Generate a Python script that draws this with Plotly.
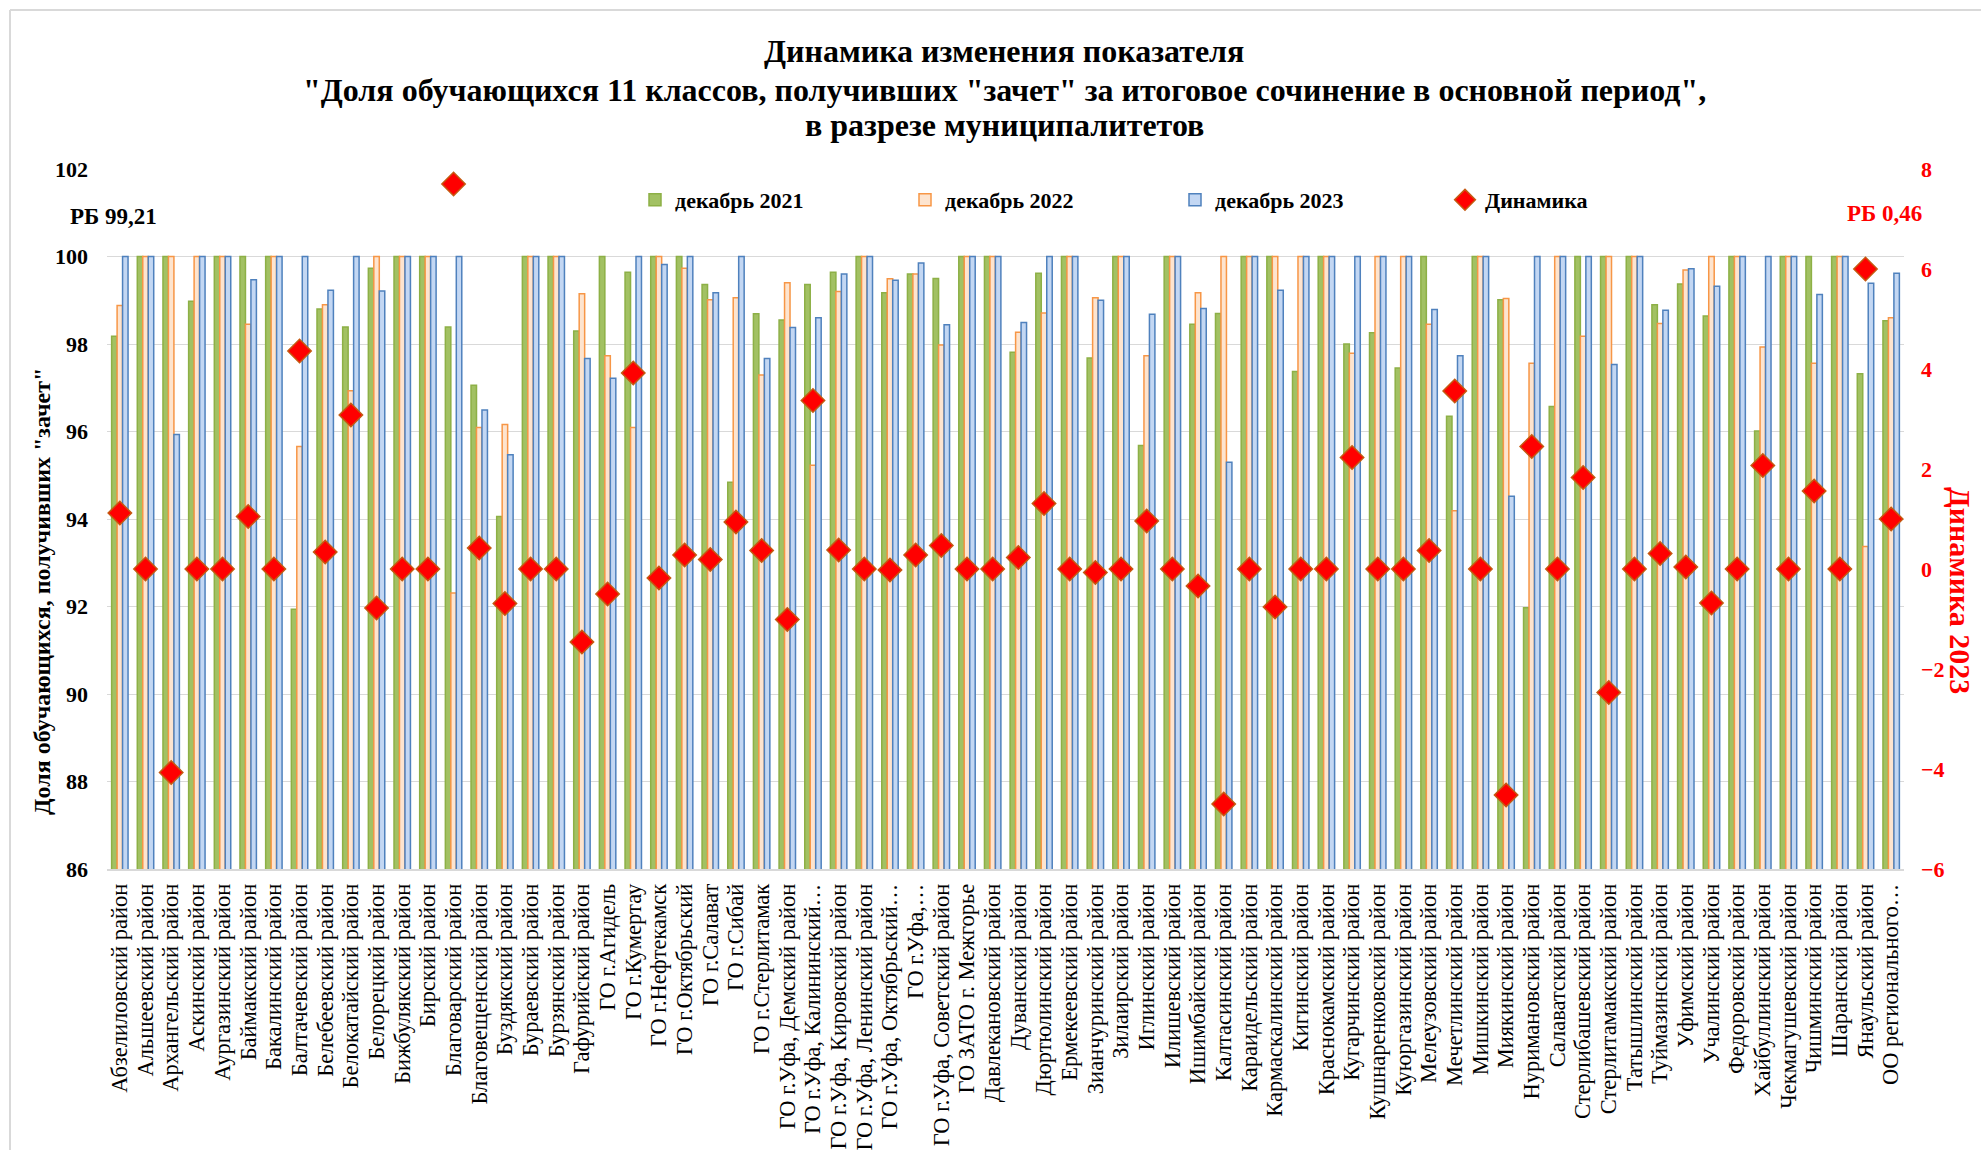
import plotly.graph_objects as go

categories = [
    "Абзелиловский район", "Альшеевский район", "Архангельский район", "Аскинский район",
    "Аургазинский район", "Баймакский район", "Бакалинский район", "Балтачевский район",
    "Белебеевский район", "Белокатайский район", "Белорецкий район", "Бижбулякский район",
    "Бирский район", "Благоварский район", "Благовещенский район", "Буздякский район",
    "Бураевский район", "Бурзянский район", "Гафурийский район", "ГО г.Агидель",
    "ГО г.Кумертау", "ГО г.Нефтекамск", "ГО г.Октябрьский", "ГО г.Салават", "ГО г.Сибай",
    "ГО г.Стерлитамак", "ГО г.Уфа, Демский район", "ГО г.Уфа, Калининский…",
    "ГО г.Уфа, Кировский район", "ГО г.Уфа, Ленинский район", "ГО г.Уфа, Октябрьский…",
    "ГО г.Уфа,…", "ГО г.Уфа, Советский район", "ГО ЗАТО г. Межгорье",
    "Давлекановский район", "Дуванский район", "Дюртюлинский район", "Ермекеевский район",
    "Зианчуринский район", "Зилаирский район", "Иглинский район", "Илишевский район",
    "Ишимбайский район", "Калтасинский район", "Караидельский район",
    "Кармаскалинский район", "Кигинский район", "Краснокамский район", "Кугарчинский район",
    "Кушнаренковский район", "Куюргазинский район", "Мелеузовский район",
    "Мечетлинский район", "Мишкинский район", "Миякинский район", "Нуримановский район",
    "Салаватский район", "Стерлибашевский район", "Стерлитамакский район",
    "Татышлинский район", "Туймазинский район", "Уфимский район", "Учалинский район",
    "Федоровский район", "Хайбуллинский район", "Чекмагушевский район", "Чишминский район",
    "Шаранский район", "Янаульский район", "ОО регионального…",
]

dec_2021 = [
    98.18, 100, 100, 98.98, 100, 100, 100, 91.94, 98.80, 98.39,
    99.73, 100, 100, 98.39, 97.06, 94.06, 100, 100, 98.30, 100,
    99.64, 100, 100, 99.36, 94.84, 98.69, 98.55, 99.36, 99.64, 100,
    99.17, 99.60, 99.50, 100, 100, 97.81, 99.62, 100, 97.68, 100,
    95.68, 100, 98.45, 98.70, 100, 100, 97.37, 100, 98.00, 98.26,
    97.45, 100, 96.35, 100, 99.01, 91.97, 96.57, 100, 100, 100,
    98.90, 99.37, 98.64, 100, 96.01, 100, 100, 100, 97.32, 98.53,
]

dec_2022 = [
    98.88, 100, 100, 100, 100, 98.45, 100, 95.66, 98.90, 96.93,
    100, 100, 100, 92.31, 96.09, 96.16, 100, 100, 99.15, 97.73,
    96.09, 100, 99.73, 99.01, 99.06, 97.29, 99.40, 95.23, 99.20, 100,
    99.49, 99.60, 97.98, 100, 100, 98.27, 98.71, 100, 99.06, 100,
    97.73, 100, 99.17, 100, 100, 100, 100, 100, 97.79, 100,
    100, 98.45, 94.19, 100, 99.04, 97.56, 100, 98.18, 100, 100,
    98.47, 99.69, 100, 100, 97.93, 100, 97.56, 100, 93.37, 98.60,
]

dec_2023 = [
    100, 100, 95.93, 100, 100, 99.47, 100, 100, 99.23, 100,
    99.21, 100, 100, 100, 96.49, 95.47, 100, 100, 97.67, 97.22,
    100, 99.82, 100, 99.17, 100, 97.67, 98.38, 98.60, 99.60, 100,
    99.46, 99.85, 98.44, 100, 100, 98.49, 100, 100, 99.00, 100,
    98.68, 100, 98.81, 95.30, 100, 99.23, 100, 100, 100, 100,
    100, 98.79, 97.73, 100, 94.52, 100, 100, 100, 97.53, 100,
    98.77, 99.72, 99.32, 100, 100, 100, 99.13, 100, 99.39, 99.62,
]

dynamics = [
    1.12, 0, -4.07, 0, 0, 1.05, 0, 4.36, 0.34, 3.08,
    -0.78, 0, 0, 7.70, 0.42, -0.69, 0, 0, -1.46, -0.50,
    3.92, -0.18, 0.28, 0.19, 0.94, 0.37, -1.01, 3.37, 0.38, 0,
    -0.02, 0.28, 0.47, 0, 0, 0.23, 1.31, 0, -0.07, 0,
    0.96, 0, -0.34, -4.70, 0, -0.76, 0, 0, 2.23, 0,
    0, 0.37, 3.56, 0, -4.52, 2.45, 0, 1.83, -2.47, 0,
    0.31, 0.04, -0.68, 0, 2.07, 0, 1.56, 0, 6.00, 1.00,
]

series_names = ["декабрь 2021", "декабрь 2022", "декабрь 2023"]
dyn_name = "Динамика"
title_lines = [
    "Динамика изменения показателя",
    "\"Доля обучающихся 11 классов, получивших \"зачет\" за итоговое сочинение в основной период\",",
    "в разрезе муниципалитетов",
]

SERIF = "Liberation Serif, Times New Roman, serif"
W, H = 1981, 1150
L, R, T, B = 107, 77, 169, 281
PW, PH = W - L - R, H - T - B


def px(xp):
    return (xp - L) / PW


def py(yp):
    return (H - B - yp) / PH


fig = go.Figure()

bar_styles = [
    dict(color="#A2C163", line=dict(color="#8DB046", width=1.5)),
    dict(color="#FDE4CF", line=dict(color="#F79646", width=1.5)),
    dict(color="#C3D7F3", line=dict(color="#4F81BD", width=1.5)),
]
for name, vals, st in zip(series_names, [dec_2021, dec_2022, dec_2023], bar_styles):
    fig.add_trace(go.Bar(x=categories, y=vals, name=name, marker=st, yaxis="y"))

fig.add_trace(go.Scatter(
    x=categories, y=dynamics, name=dyn_name, mode="markers", yaxis="y2",
    marker=dict(symbol="diamond", size=18, color="#FF0000",
                line=dict(color="#C55A11", width=1.5)),
))

title_y = [51, 90, 125]
annotations = [
    dict(text="<b>" + t + "</b>", x=px(1004), y=py(yy), xref="paper", yref="paper",
         xanchor="center", yanchor="middle", showarrow=False,
         font=dict(family=SERIF, size=32, color="black"))
    for t, yy in zip(title_lines, title_y)
]

annotations += [
    dict(text="<b>Доля обучающихся, получивших \"зачет\"</b>", textangle=-90,
         x=px(42), y=py(592), xref="paper", yref="paper", showarrow=False,
         xanchor="center", yanchor="middle",
         font=dict(family=SERIF, size=24, color="black")),
    dict(text="<b>Динамика 2023</b>", textangle=90,
         x=px(1961), y=py(590), xref="paper", yref="paper", showarrow=False,
         xanchor="center", yanchor="middle",
         font=dict(family=SERIF, size=30, color="#FF0000")),
    dict(text="<b>РБ 99,21</b>", x=px(113), y=py(216), xref="paper", yref="paper",
         showarrow=False, xanchor="center", yanchor="middle",
         font=dict(family=SERIF, size=23, color="black")),
    dict(text="<b>РБ 0,46</b>", x=px(1884), y=py(213), xref="paper", yref="paper",
         showarrow=False, xanchor="center", yanchor="middle",
         font=dict(family=SERIF, size=23, color="#FF0000")),
]

fig.update_layout(
    width=W, height=H,
    margin=dict(l=L, r=R, t=T, b=B, autoexpand=False),
    paper_bgcolor="white", plot_bgcolor="white",
    barmode="group", bargap=0.36, bargroupgap=0.0,
    font=dict(family=SERIF, color="black", size=18),
    showlegend=True,
    legend=dict(
        orientation="h", x=px(635), xanchor="left", y=py(200), yanchor="middle",
        entrywidth=225, entrywidthmode="pixels", traceorder="normal",
        font=dict(family=SERIF, size=22, color="black", weight="bold"),
        bgcolor="rgba(0,0,0,0)",
    ),
    xaxis=dict(
        type="category", tickangle=-90, showgrid=False, automargin=False,
        range=[-0.5, len(categories) - 0.5], autorange=False,
        tickmode="array", tickvals=categories, ticktext=categories,
        showline=True, linecolor="#D9D9D9", linewidth=1.5,
        tickfont=dict(family=SERIF, size=22.5, color="black"),
        ticks="", ticklabelstandoff=4,
    ),
    yaxis=dict(
        range=[86, 102], dtick=2, tick0=86, showgrid=True, gridcolor="#D9D9D9", gridwidth=1.2,
        zeroline=False, showline=False, ticks="", automargin=False,
        tickfont=dict(family=SERIF, size=22, color="black", weight="bold"),
        ticklabelstandoff=18,
    ),
    yaxis2=dict(
        overlaying="y", side="right", range=[-6, 8], dtick=2, tick0=-6,
        showgrid=False, zeroline=False, showline=False, ticks="", automargin=False,
        tickfont=dict(family=SERIF, size=22, color="#FF0000", weight="bold"),
        ticklabelstandoff=16,
    ),
    annotations=annotations,
    shapes=[
        dict(type="line", xref="paper", yref="paper", x0=px(10), x1=px(1981), y0=py(10), y1=py(10),
             line=dict(color="#D9D9D9", width=2)),
        dict(type="line", xref="paper", yref="paper", x0=px(10), x1=px(10), y0=py(10), y1=py(1150),
             line=dict(color="#D9D9D9", width=2)),
    ],
)

fig.write_html("out.html", config={"displayModeBar": False},
               post_script="document.body.style.margin='0';")
